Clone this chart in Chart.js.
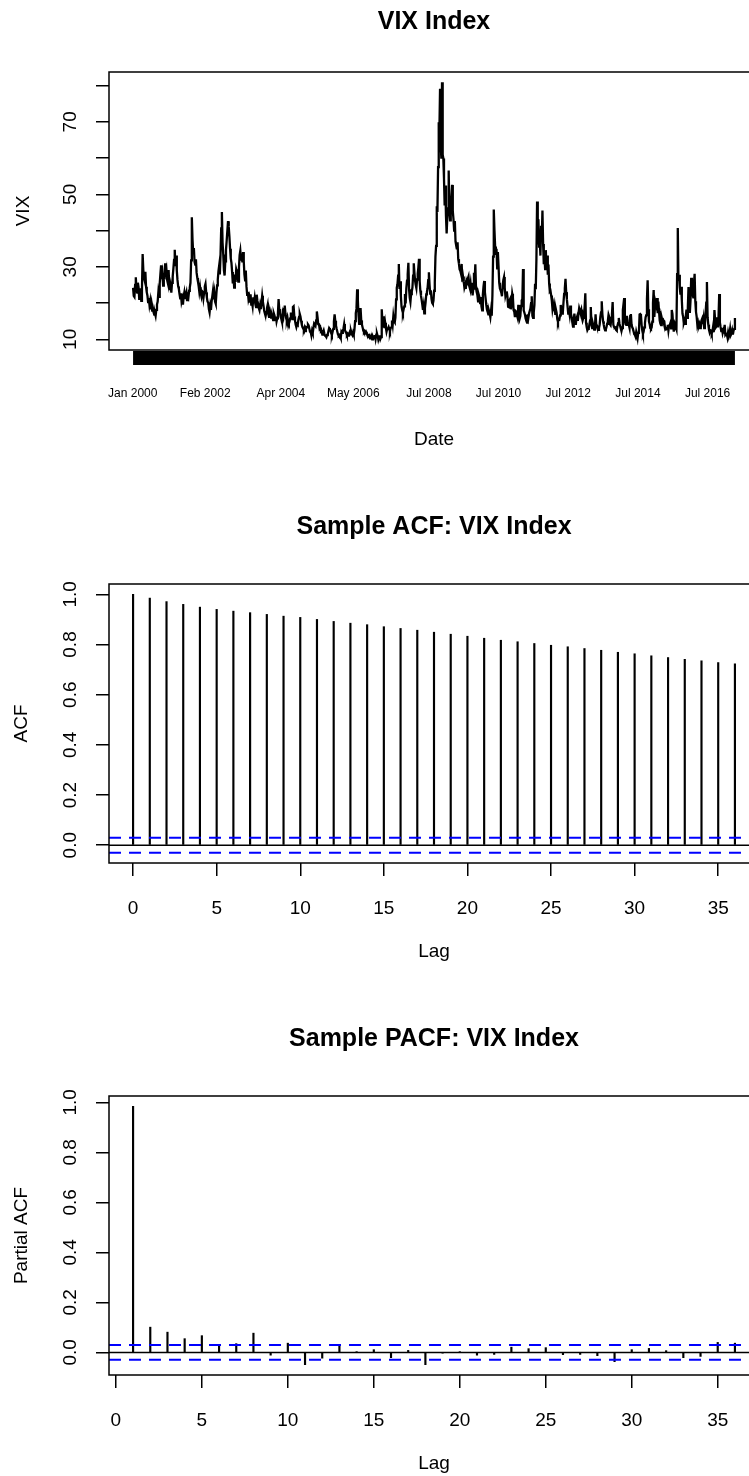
<!DOCTYPE html>
<html><head><meta charset="utf-8">
<script src="https://cdn.jsdelivr.net/npm/chart.js@4.4.1/dist/chart.umd.min.js"></script>
<style>
html,body{margin:0;padding:0;background:#fff;overflow:hidden;}
#wrap{position:relative;width:749px;height:1476px;overflow:hidden;background:#fff;}
canvas{position:absolute;left:0;}
</style></head><body>
<div id="wrap">
<canvas id="c1" width="800" height="470" style="top:0px"></canvas>
<canvas id="c2" width="800" height="500" style="top:470px"></canvas>
<canvas id="c3" width="800" height="496" style="top:980px"></canvas>
</div>
<script>
// ---------------- DATA ----------------
// Weekly VIX closes, one array per year
const vix2000 = [24.2,22.0,21.7,25.0, 27.1,23.5,22.9,25.6, 24.4,21.2,22.7,24.1,20.6, 23.8,33.5,29.1,27.0, 26.2,28.6,24.5,23.0, 22.1,20.3,21.4,19.5, 20.6,18.3,19.7,17.9,18.4, 17.5,16.8,17.3,16.5, 18.1,19.6,20.4,22.9, 21.7,25.4,28.0,30.4,26.6, 27.9,24.8,28.3,26.5, 31.0,27.6,28.8,26.2];
const vix2001 = [25.4,29.1,24.7,23.6, 24.8,22.9,25.6,27.3, 29.5,31.9,34.7,30.2,33.1, 29.0,26.4,24.6,23.9, 22.5,21.3,22.7,20.4, 21.2,19.6,21.8,22.9, 21.1,22.3,23.0,20.8,22.1, 21.6,23.4,24.3,25.6, 31.8,43.7,37.5,33.9, 35.2,31.4,30.6,32.1,28.4, 27.0,25.9,24.7,23.1, 24.4,22.8,21.9,23.3];
const vix2002 = [23.1,21.4,22.9,24.6, 25.3,23.0,21.6,20.4, 20.1,18.3,17.4,19.2, 18.1,20.5,21.9,23.4,21.0, 22.6,20.4,19.8,22.7, 24.9,26.5,28.8,30.3, 27.9,33.2,40.6,45.1,36.7, 33.4,29.1,27.6,31.5, 34.7,37.2,39.9,42.6, 41.1,38.4,35.0,32.3,31.1, 28.6,25.4,27.2,24.3, 27.9,25.8,29.3,28.6];
const vix2003 = [27.3,25.9,29.8,33.2, 34.4,32.0,33.7,31.2, 34.1,31.6,27.9,26.3,29.0, 24.6,22.3,23.1,21.0, 21.7,20.1,22.4,19.6, 20.3,19.1,21.6,20.0, 21.4,19.7,18.9,22.3,20.6, 19.8,18.6,18.0,19.4, 18.3,20.1,22.0,20.4, 19.2,17.8,17.1,16.4,17.3, 18.6,19.5,17.0,16.2, 17.7,16.9,16.0,16.8];
const vix2004 = [16.1,15.3,17.2,16.6, 15.4,16.3,14.9,15.8, 17.0,21.1,18.3,17.4,16.2, 15.8,14.9,17.1,16.3, 18.4,19.3,17.2,15.9, 15.2,16.0,14.8,14.3, 14.9,15.8,17.4,16.2,15.6, 18.9,19.1,16.4,15.2, 14.1,13.4,14.2,14.0, 15.4,16.2,17.0,16.3,15.1, 14.0,13.3,13.0,12.6, 13.2,12.3,13.4,13.3];
const vix2005 = [13.3,14.1,13.8,13.0, 12.1,12.0,11.1,12.4, 11.8,13.2,14.3,14.0,13.7, 15.2,17.7,16.1,14.2, 14.4,13.0,13.3,12.1, 12.2,11.3,12.0,12.5, 11.6,11.0,10.9,10.6,11.2, 11.4,12.3,13.1,12.8, 12.5,11.7,11.2,12.0, 12.9,14.9,16.9,15.1,13.8, 12.9,12.1,11.3,11.0, 11.2,10.9,10.4,12.1];
const vix2006 = [11.8,12.3,13.0,14.2, 12.6,12.1,11.8,11.2, 11.5,11.0,11.3,11.9,11.4, 12.3,11.6,11.2,11.9, 11.3,12.6,15.0,17.2, 18.4,23.8,20.9,16.7, 14.3,16.1,18.6,15.2,14.1, 13.3,12.4,12.0,12.3, 11.8,12.1,11.6,11.4, 11.2,10.9,11.1,10.3,10.6, 11.0,10.0,10.8,10.4, 10.3,11.2,10.1,11.3];
const vix2007 = [11.6,10.9,9.9,10.6, 11.1,10.1,10.6,18.3, 14.9,13.6,16.4,13.1,14.6, 13.2,12.1,12.9,13.0, 13.4,12.8,12.2,13.1, 13.3,15.2,14.0,16.4, 15.0,14.7,16.0,21.0,24.2, 25.2,27.6,30.8,23.9, 26.0,21.9,19.0,18.0, 17.3,18.2,19.1,22.5,19.9, 24.1,26.2,28.0,31.1, 23.8,21.4,20.3,22.5];
const vix2008 = [23.2,24.3,27.6,31.0,28.4, 26.2,25.0,24.1,26.5, 28.1,29.8,32.2,26.0, 23.4,22.0,20.9,19.6, 18.1,19.3,17.2,18.6, 20.2,22.4,23.0,24.1, 26.3,28.5,25.1,22.6,23.5, 21.2,20.1,19.8,20.7, 23.4,25.7,32.9,35.8,46.7, 45.1,57.5,69.9,67.6,79.1, 63.9,59.8,80.9,60.9, 59.9,54.3,46.9,52.4,44.1];
const vix2009 = [39.2,43.9,46.1,56.6, 45.3,42.8,47.1,49.3, 52.6,45.4,43.2,40.0,42.6, 37.0,35.9,34.8,36.8, 32.1,30.9,29.3,28.9, 28.1,30.8,25.9,27.3, 26.0,24.3,25.0,23.9,25.9, 25.2,26.7,27.3,24.8, 24.1,25.4,23.0,25.6, 22.1,24.0,28.4,26.3,30.7, 24.2,23.0,22.2,20.5, 22.3,21.6,20.0,21.7];
const vix2010 = [19.1,18.0,22.3,24.6, 26.1,23.0,21.3,19.5, 18.2,17.6,16.9,17.8,17.1, 16.1,17.9,16.5,22.1, 32.8,45.8,40.1,35.6, 33.3,35.0,29.6,34.1, 30.1,25.6,24.0,23.5,22.9, 21.9,24.8,26.4,27.2, 24.3,22.0,22.8,23.2, 21.7,19.0,18.9,20.8,21.2, 18.3,19.9,22.6,21.5, 18.0,17.6,16.1,17.8];
const vix2011 = [17.6,16.6,15.9,19.5, 17.1,15.7,16.4,19.2, 20.7,21.1,29.4,18.0,17.4, 16.7,15.7,15.1,14.6, 16.9,15.9,17.1,17.1, 18.5,20.0,21.9,16.5, 15.9,17.4,19.4,25.3,23.8, 32.0,48.0,36.2,43.1,35.6, 37.3,33.1,41.3,38.0, 45.5,36.3,30.7,32.9,29.4, 34.6,30.0,33.1,27.8, 30.6,25.4,23.2,23.4];
const vix2012 = [22.1,20.6,18.3,19.4, 17.8,19.1,17.0,18.2, 17.3,15.5,14.8,15.6,15.5, 16.6,19.5,18.1,17.1, 17.2,20.1,22.5,24.1, 26.7,23.0,21.1,19.1, 17.1,18.2,16.9,19.3,17.0, 16.1,14.7,13.5,15.2, 17.1,15.0,14.0,15.7, 16.3,15.1,17.1,18.6,17.9, 17.6,18.2,16.0,15.2, 15.9,17.0,18.9,22.7];
const vix2013 = [14.6,13.4,12.5,12.9, 13.0,14.1,15.2,18.9, 14.2,13.1,14.4,13.6,12.7, 12.9,16.9,14.1,13.5, 13.0,12.6,13.1,14.1, 16.2,17.4,20.5,16.9, 15.0,14.0,13.0,12.5,12.7, 13.4,14.3,15.1,16.8, 16.2,14.2,13.9,15.5, 17.0,20.3,14.1,13.4,13.2, 13.3,12.6,12.4,13.7, 14.5,15.9,14.3,13.6];
const vix2014 = [12.9,12.3,13.1,18.1, 19.7,21.4,15.1,14.2, 14.0,16.5,15.0,14.4,13.9, 13.1,16.4,17.0,14.1, 13.3,12.9,12.2,11.4, 11.2,10.7,12.1,11.3, 10.3,11.8,12.1,16.9,17.0, 16.7,14.0,12.4,11.5, 12.1,13.3,14.5,16.1, 16.7,21.2,26.3,18.3,14.9, 14.2,13.1,12.9,13.3, 14.9,20.1,23.6,16.2,19.2];
const vix2015 = [20.0,19.2,21.4,17.2, 20.4,17.8,15.2,14.3, 13.9,16.0,15.2,15.4,14.6, 14.7,13.0,12.9,13.1, 12.9,14.0,12.4,13.8, 13.9,14.5,13.0,18.1, 17.0,14.2,12.1,13.7,12.8, 13.4,12.8,28.0,40.7,26.1, 27.8,24.4,22.3,24.5, 20.9,17.1,16.2,14.5,15.1, 14.3,16.4,18.2,15.9, 18.9,24.4,18.7,17.3];
const vix2016 = [20.7,27.0,24.2,22.4, 21.6,25.4,28.1,20.5, 17.6,16.2,14.0,14.7,13.6, 14.2,13.1,13.2,15.2, 15.7,14.2,15.6,13.1, 14.0,17.0,20.1,25.8,16.1, 14.1,12.7,11.9,12.5, 12.4,11.6,12.1,13.4, 12.0,18.1,15.4,13.3, 13.6,16.1,13.3,16.2,22.5, 14.7,13.4,12.3,13.1, 11.8,12.6,12.2,14.0];
const vix2017 = [11.3,11.6,11.5,10.6, 11.9,10.9,11.5,12.9, 11.2,11.6,12.5,11.3,12.4, 12.9,15.9];
const vixYears = [2000,2001,2002,2003,2004,2005,2006,2007,2008,2009,2010,2011,2012,2013,2014,2015,2016,2017];
const vixByYear = [vix2000,vix2001,vix2002,vix2003,vix2004,vix2005,vix2006,vix2007,vix2008,vix2009,vix2010,vix2011,vix2012,vix2013,vix2014,vix2015,vix2016,vix2017];
const weeksInPartialYear = 51;

const dateTickPos    = [2000.0, 2002.08, 2004.25, 2006.33, 2008.5, 2010.5, 2012.5, 2014.5, 2016.5];
const dateTickLabels = ['Jan 2000','Feb 2002','Apr 2004','May 2006','Jul 2008','Jul 2010','Jul 2012','Jul 2014','Jul 2016'];
const vixTicks      = [10,20,30,40,50,60,70,80];
const vixTickLabels = ['10','','30','','50','','70',''];

const acfLags   = [0,1,2,3,4,5,6,7,8,9,10,11,12,13,14,15,16,17,18,19,20,21,22,23,24,25,26,27,28,29,30,31,32,33,34,35,36];
const acfValues = [1.000,0.985,0.971,0.960,0.949,0.940,0.933,0.927,0.920,0.913,0.908,0.900,0.892,0.885,0.879,0.871,0.864,0.857,0.849,0.841,0.833,0.825,0.817,0.811,0.804,0.797,0.791,0.784,0.777,0.769,0.763,0.755,0.748,0.741,0.735,0.728,0.723];
const pacfLags   = [1,2,3,4,5,6,7,8,9,10,11,12,13,14,15,16,17,18,19,20,21,22,23,24,25,26,27,28,29,30,31,32,33,34,35,36];
const pacfValues = [0.984,0.101,0.081,0.055,0.067,0.030,0.035,0.077,-0.011,0.037,-0.049,-0.023,0.032,0.003,0.011,-0.021,0.008,-0.049,-0.003,0.002,-0.011,-0.008,0.021,0.015,0.019,-0.009,-0.008,-0.013,-0.037,0.011,0.016,0.007,-0.021,-0.016,0.040,0.037];
const ciBound = 0.0298;
const lagTicks = [0,5,10,15,20,25,30,35];
const acfYTicks = [0,0.2,0.4,0.6,0.8,1.0];
const acfYLabels = ['0.0','0.2','0.4','0.6','0.8','1.0'];

// ---------------- CHARTS ----------------
const FONT = '"Liberation Sans", Arial, Helvetica, sans-serif';
Chart.defaults.font.family = FONT;
Chart.defaults.color = '#000';

function rRange(lo, hi){ const p = (hi - lo) * 0.04; return [lo - p, hi + p]; }

const rPlot = {
  id: 'rPlot',
  afterDraw(chart, args, o) {
    const {ctx, chartArea: a, scales} = chart;
    ctx.save();
    ctx.strokeStyle = '#000'; ctx.lineWidth = 1.5;
    ctx.strokeRect(a.left, a.top, a.right - a.left, a.bottom - a.top);
    if (o.tickBar) {
      const x0 = scales.x.getPixelForValue(o.tickBar[0]);
      const x1 = scales.x.getPixelForValue(o.tickBar[1]);
      ctx.fillStyle = '#000';
      ctx.fillRect(x0, a.bottom + 1, x1 - x0, 14);
    }
    ctx.fillStyle = '#000';
    ctx.textAlign = 'center'; ctx.textBaseline = 'middle';
    const cx = (a.left + a.right) / 2;
    ctx.font = 'bold 25px ' + FONT;
    ctx.fillText(o.title, cx, a.top - o.titleGap);
    ctx.font = '19px ' + FONT;
    ctx.fillText(o.xTitle, cx, a.bottom + o.xTitleGap);
    ctx.save();
    ctx.translate(a.left - o.yTitleGap, (a.top + a.bottom) / 2);
    ctx.rotate(-Math.PI / 2);
    ctx.fillText(o.yTitle, 0, 0);
    ctx.restore();
    o.yTicks.forEach((v, i) => {
      const lab = o.yLabels[i];
      if (!lab) return;
      const y = scales.y.getPixelForValue(v);
      ctx.save();
      ctx.translate(a.left - 38, y);
      ctx.rotate(-Math.PI / 2);
      ctx.fillText(lab, 0, 0);
      ctx.restore();
    });
    ctx.restore();
  }
};

function yAxis(range, ticks) {
  return {
    type: 'linear', min: range[0], max: range[1],
    afterFit(s) { s.width = 109; },
    afterBuildTicks(s) { s.ticks = ticks.map(v => ({value: v})); },
    ticks: { color: 'rgba(0,0,0,0)', font: {size: 19} },
    grid: { drawOnChartArea: false, drawTicks: true, tickLength: 13, color: '#000', lineWidth: 1.5, offset: false },
    border: { display: false }
  };
}
function xAxis(range, ticks, labels, height, fontSize, pad, drawTicks) {
  return {
    type: 'linear', min: range[0], max: range[1], offset: false,
    afterFit(s) { s.height = height; },
    afterBuildTicks(s) { s.ticks = ticks.map(v => ({value: v})); },
    ticks: { autoSkip: false, maxRotation: 0, minRotation: 0, padding: pad,
      font: {size: fontSize}, color: '#000',
      callback: (v, i) => labels[i] },
    grid: { drawOnChartArea: false, drawTicks: drawTicks, tickLength: 13, color: '#000', lineWidth: 1.5, offset: false },
    border: { display: false }
  };
}

// Panel 1: VIX series
const vixPoints = [];
vixByYear.forEach((arr, k) => {
  const n = (k === vixByYear.length - 1) ? weeksInPartialYear : arr.length;
  arr.forEach((v, j) => vixPoints.push({x: vixYears[k] + (j + 0.5) / n, y: v}));
});
const vxs = vixPoints.map(p => p.x), vys = vixPoints.map(p => p.y);
const vixX = rRange(Math.min(...vxs), Math.max(...vxs));
const vixY = rRange(Math.min(...vys), Math.max(...vys));

new Chart(document.getElementById('c1'), {
  type: 'line',
  data: { datasets: [{ data: vixPoints, borderColor: '#000', borderWidth: 2.3, pointRadius: 0, tension: 0, fill: false }] },
  options: {
    responsive: false, animation: false, devicePixelRatio: 1,
    layout: { padding: {top: 72, right: 41, bottom: 0, left: 0} },
    plugins: { legend: {display: false}, tooltip: {enabled: false},
      rPlot: { title: 'VIX Index', titleGap: 50, xTitle: 'Date', xTitleGap: 90, yTitle: 'VIX', yTitleGap: 85,
               yTicks: vixTicks, yLabels: vixTickLabels, tickBar: [vxs[0], vxs[vxs.length - 1]] } },
    scales: { x: xAxis(vixX, dateTickPos, dateTickLabels, 120, 12, 36, false), y: yAxis(vixY, vixTicks) }
  },
  plugins: [rPlot]
});

// Panels 2-3: ACF / PACF
function corrChart(id, lags, vals, title, yTitle, padTop, xHeight) {
  const yr = rRange(Math.min(-ciBound, ...vals), Math.max(ciBound, ...vals));
  const xr = rRange(Math.min(...lags), Math.max(...lags));
  const hLine = (y, color, dash, w) => ({ type: 'line', data: [{x: xr[0], y}, {x: xr[1], y}],
     borderColor: color, borderDash: dash, borderWidth: w, pointRadius: 0, fill: false });
  new Chart(document.getElementById(id), {
    data: { datasets: [
      hLine(ciBound, '#0000FF', [12, 8], 2),
      hLine(-ciBound, '#0000FF', [12, 8], 2),
      hLine(0, '#000', [], 1.5),
      { type: 'bar', data: lags.map((l, i) => ({x: l, y: vals[i]})), backgroundColor: '#000', barThickness: 1.5 }
    ]},
    options: {
      responsive: false, animation: false, devicePixelRatio: 1,
      layout: { padding: {top: padTop, right: 41, bottom: 0, left: 0} },
      plugins: { legend: {display: false}, tooltip: {enabled: false},
        rPlot: { title, titleGap: 57, xTitle: 'Lag', xTitleGap: 89, yTitle, yTitleGap: 87,
                 yTicks: acfYTicks, yLabels: acfYLabels } },
      scales: { x: xAxis(xr, lagTicks, lagTicks.map(String), xHeight, 19, 21, true), y: yAxis(yr, acfYTicks) }
    },
    plugins: [rPlot]
  });
}
corrChart('c2', acfLags, acfValues, 'Sample ACF: VIX Index', 'ACF', 114, 107);
corrChart('c3', pacfLags, pacfValues, 'Sample PACF: VIX Index', 'Partial ACF', 116, 101);
</script>
</body></html>
